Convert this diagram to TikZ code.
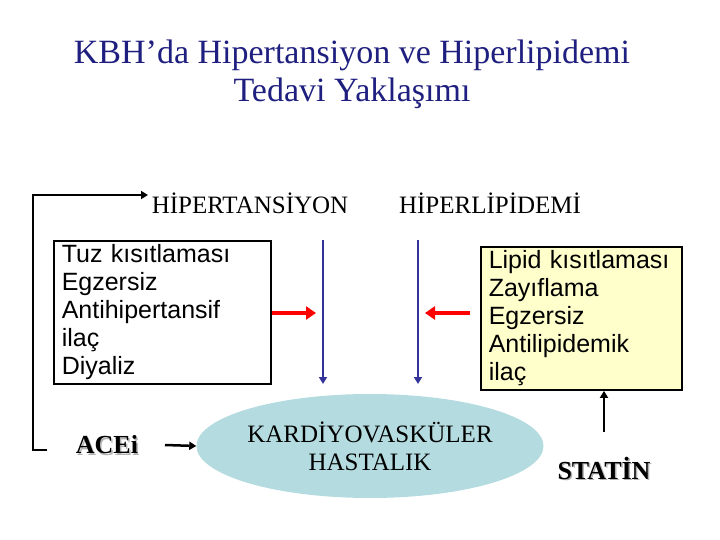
\documentclass[tikz,border=0pt]{standalone}
\usepackage{fontspec}
\setmainfont{Liberation Serif}
\newfontfamily\arial{Liberation Sans}
\usetikzlibrary{arrows.meta,shapes.geometric}
\definecolor{ttl}{HTML}{1F1F80}
\definecolor{blu}{HTML}{333399}
\definecolor{ylw}{HTML}{FFFFCC}
\definecolor{ell}{HTML}{B4DCE0}
\begin{document}
\begin{tikzpicture}[x=1pt,y=-1pt,
  lbl/.style={font=\fontsize{25}{30}\selectfont},
  box/.style={draw,line width=1.5pt,anchor=north west,align=left,font=\arial\fontsize{25}{28}\selectfont,inner xsep=8pt,inner ysep=4pt},
  blk/.style={line width=2.5pt,-{Triangle[length=7pt,width=8pt]}},
  red/.style={draw=red,line width=4pt,-{Triangle[length=10pt,width=13pt]}},
  bl/.style={draw=blu,line width=2.5pt,-{Triangle[length=7pt,width=8pt]}},
  shd/.style={font=\bfseries\fontsize{26}{30}\selectfont}]
\useasboundingbox (0,0) rectangle (720,540);
\node[text=ttl,align=center,font=\fontsize{34}{38}\selectfont] (title) at (352,74) {KBH’da Hipertansiyon ve Hiperlipidemi\\Tedavi Yaklaşımı};
\node[lbl] (ht) at (250,203) {HİPERTANSİYON};
\node[lbl] (hl) at (490,203) {HİPERLİPİDEMİ};
\node[box,fill=white,text width=201pt,minimum height=130pt] (lb) at (53,240) {Tuz kısıtlaması\\Egzersiz\\Antihipertansif ilaç\\Diyaliz};
\node[box,fill=ylw,text width=185pt,minimum height=124pt] (rb) at (480,246) {Lipid kısıtlaması\\Zayıflama\\Egzersiz\\Antilipidemik ilaç};
\node[draw=none,fill=ell,ellipse,minimum width=274pt,minimum height=104pt,inner sep=0pt,align=center,font=\fontsize{25}{28}\selectfont] (cv) at (370,446) {KARDİYOVASKÜLER\\HASTALIK};
\node[shd,text=gray!60] at (108.5,446.5) {ACEi};
\node[shd] (ace) at (107,445) {ACEi};
\node[shd,text=gray!60] at (605.5,469.5) {STATİN};
\node[shd] (sta) at (604,468) {STATİN};
\coordinate (b1) at (47,450); \coordinate (b2) at (33,450); \coordinate (b3) at (33,195); \coordinate (b4) at (148,195);
\draw[blk] (b1) -- (b2) -- (b3) -- (b4);
\coordinate (a1) at (165,445);
\draw[blk] (a1) -- (cv.west);
\coordinate (s1) at (604,432); \draw[blk] (s1) -- (rb.south -| s1);
\coordinate (r1) at (272,313); \coordinate (r2) at (316,313);
\draw[red] (r1) -- (r2);
\coordinate (r3) at (470,313); \coordinate (r4) at (425,313);
\draw[red] (r3) -- (r4);
\coordinate (v1) at (323,240); \coordinate (v2) at (323,384);
\coordinate (v3) at (418,240); \coordinate (v4) at (418,384);
\draw[bl] (v1) -- (v2); \draw[bl] (v3) -- (v4);
\end{tikzpicture}
\end{document}
